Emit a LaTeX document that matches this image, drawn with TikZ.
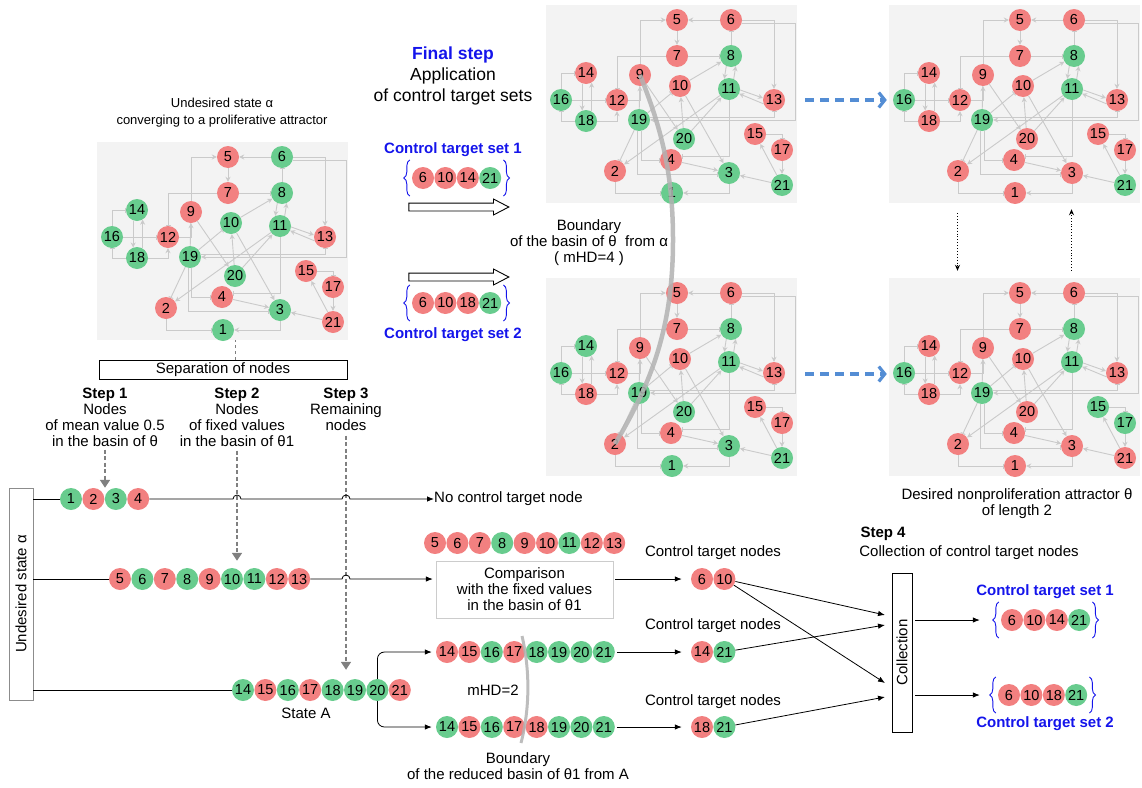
\documentclass[tikz,border=0pt]{standalone}
\usepackage{fontspec}
\setmainfont{Liberation Sans}
\usepackage{tikz}
\usetikzlibrary{backgrounds}
\usetikzlibrary{positioning, calc, arrows.meta, shapes, decorations.pathreplacing}
\usepackage{xcolor}
\definecolor{nr}{RGB}{242,128,128}
\definecolor{ng}{RGB}{104,204,142}
\definecolor{linkgray}{RGB}{202,202,202}
\definecolor{panelgray}{RGB}{243,243,243}
\definecolor{flowblue}{RGB}{84,141,212}
\definecolor{setblue}{RGB}{20,20,235}
\tikzset{netnode/.style={circle, inner sep=0pt, minimum size=22pt, font=\fontsize{14.5}{14.5}\selectfont}}
\tikzset{panel/.style={fill=panelgray, minimum width=251pt, minimum height=198pt, inner sep=0pt}}
\tikzset{link/.style={draw=linkgray, line width=0.9pt}}
\tikzset{actv/.style={link, -{Stealth[length=5pt,width=5pt]}}}
\tikzset{inhb/.style={link, -{Bar[width=5pt]}}}
\tikzset{lbl/.style={font=\fontsize{15}{16}\selectfont, align=center, inner sep=0pt}}
\tikzset{bluehead/.style={lbl, font=\fontsize{15}{16}\selectfont\bfseries, text=setblue}}
\tikzset{flow/.style={draw=black, line width=0.8pt}}
\tikzset{flowarr/.style={flow, -{Latex[length=7pt,width=5.5pt]}}}
\tikzset{stepdash/.style={draw=gray, line width=1.7pt, dash pattern=on 4pt off 2.5pt, -{Triangle[length=8pt,width=10pt]}}}
\tikzset{bluedash/.style={draw=flowblue, line width=3.2pt, dash pattern=on 9pt off 6pt, -{Straight Barb[length=6pt,width=15pt]}}}
\tikzset{dotarr/.style={draw=black, line width=0.9pt, dotted, -{Stealth[length=6pt,width=5pt]}}}
\tikzset{brc/.style={draw=setblue, line width=0.9pt, decorate, decoration={brace, amplitude=6pt}}}
\tikzset{hollow/.style={single arrow, draw, fill=white, line width=0.9pt, minimum height=100pt,
  inner xsep=0pt, inner ysep=3.5pt, single arrow head extend=4pt, single arrow tip angle=55}}
\tikzset{bound/.style={draw=black!30, line width=4.5pt, opacity=0.85}}

% node positions of the network (first panel)
\def\netpos{1/223/330,2/166/308,3/280/310,4/222/297,5/228/157,6/282/157,7/228/193,%
8/282/193,9/191/212,10/231/223,11/280/226,12/168/237,13/325/237,14/137/210,15/306/271,%
16/112/237,17/333/287,18/137/258,19/190/257,20/235/276,21/333/322}

\newcommand{\netpanel}[3]{%
  \begin{scope}[shift={(#1)}]
    \foreach \n/\x/\y in \netpos
      \coordinate (#2c\n) at (\x,\y);
    \foreach \n/\c in {#3}
      \node[netnode, fill=\c] (#2-\n) at (#2c\n) {\n};
    \begin{scope}[on background layer]
      \node[panel] (#2-box) at (222.5,241) {};
      \draw[actv] (#2-9) |- (#2-5);
      \draw[actv] (#2-6) -- (#2-5);
      \draw[actv] (#2-5) -- (#2-7);
      \draw[actv] (#2-6) -| (#2-13);
      \draw[actv] (#2-6.-20) -- ++(54,0) |- (#2-19);
      \draw[inhb] (#2-19.15) -| (#2-13);
      \draw[inhb] (#2-8) -- (#2-6);
      \draw[inhb] (#2-7) -- (#2-8);
      \draw[inhb] (#2-7) -| (#2-12);
      \draw[actv] (#2-8.-115) -- (#2-11.115);
      \draw[actv] (#2-11.65) -- (#2-8.-65);
      \draw[actv] (#2-10) -- (#2-8);
      \draw[actv] (#2-11.-5) -- (#2-13.170);
      \draw[actv] (#2-13.-160) -- (#2-11.-25);
      \draw[actv] (#2-11) -- (#2-2);
      \draw[actv] (#2-20) -- (#2-11);
      \draw[actv] (#2-20) -- (#2-10);
      \draw[inhb] (#2-19) -- (#2-10);
      \draw[actv] (#2-9) -- (#2-20);
      \draw[actv] (#2-10) -- (#2-3);
      \draw[inhb] (#2-11) |- (#2-4.20);
      \draw[actv] (#2-4) -- (#2-3);
      \draw[inhb] (#2-19.-100) |- (#2-3.-170);
      \draw[inhb] (#2-19.-80) |- (#2-4);
      \draw[inhb] (#2-19) -- (#2-2);
      \draw[inhb] (#2-2) |- (#2-1);
      \draw[actv] (#2-3) |- (#2-1);
      \draw[actv] (#2-21) -- (#2-3);
      \draw[actv] (#2-21) -- (#2-15);
      \draw[inhb] (#2-15) -| (#2-17);
      \draw[actv] (#2-17) -- (#2-21);
      \draw[inhb] (#2-16) |- (#2-14);
      \draw[inhb] (#2-16) -- (#2-12);
      \draw[actv] (#2-14.-110) -- (#2-18.110);
      \draw[actv] (#2-18.60) -- (#2-14.-60);
      \draw[inhb] (#2-18) -| (#2-16);
      \draw[actv] (#2-18) -| (#2-12);
      \draw[actv] (#2-12) -| (#2-9);
      \draw[link] (#2-9) -- (#2-19);
    \end{scope}
  \end{scope}}

% a row of state chips
\newcommand{\chiprow}[4]{%
  \foreach \n/\c [count=\i from 0] in {#4}
    \node[netnode, fill=\c] (#1-\n) at ({#2+22.4*\i},#3) {\n};}

\begin{document}
\begin{tikzpicture}[x=1pt, y=-1pt]
\useasboundingbox (0,0) rectangle (1142,787);

% networks
\netpanel{0,0}{a}{1/ng,2/nr,3/ng,4/nr,5/nr,6/ng,7/nr,8/ng,9/nr,10/ng,11/ng,12/nr,13/nr,14/ng,15/nr,16/ng,17/nr,18/ng,19/ng,20/ng,21/nr}
\netpanel{449,-137}{b}{1/ng,2/nr,3/ng,4/nr,5/nr,6/nr,7/nr,8/ng,9/nr,10/nr,11/ng,12/nr,13/nr,14/nr,15/nr,16/ng,17/nr,18/ng,19/ng,20/ng,21/ng}
\netpanel{792,-137}{c}{1/nr,2/nr,3/nr,4/nr,5/nr,6/nr,7/nr,8/ng,9/nr,10/nr,11/ng,12/nr,13/nr,14/nr,15/nr,16/ng,17/nr,18/nr,19/ng,20/nr,21/ng}
\netpanel{449,136}{d}{1/ng,2/nr,3/ng,4/nr,5/nr,6/nr,7/nr,8/ng,9/nr,10/nr,11/ng,12/nr,13/nr,14/ng,15/nr,16/ng,17/nr,18/nr,19/ng,20/ng,21/ng}
\netpanel{792,136}{e}{1/nr,2/nr,3/nr,4/nr,5/nr,6/nr,7/nr,8/ng,9/nr,10/nr,11/ng,12/nr,13/nr,14/nr,15/ng,16/ng,17/ng,18/nr,19/ng,20/nr,21/nr}

\node[lbl, font=\fontsize{13}{17}\selectfont] (undes) at (222,113) {Undesired state α\\converging to a proliferative attractor};

% final step
\node[bluehead, font=\fontsize{17.5}{21}\selectfont\bfseries] (final) at (453,55) {Final step};
\node[lbl, font=\fontsize{17.5}{21}\selectfont] (appl) at (453,86) {Application\\of control target sets};
\node[bluehead] (cts1) at (453,150) {Control target set 1};
\chiprow{sa}{423}{178}{6/nr,10/nr,14/nr,21/ng}
\draw[brc] ([xshift=-2pt,yshift=-18pt]sa-6.west) -- ([xshift=-2pt,yshift=18pt]sa-6.west);
\draw[brc] ([xshift=2pt,yshift=18pt]sa-21.east) -- ([xshift=2pt,yshift=-18pt]sa-21.east);
\node[hollow] (ha1) at (455,207) {};
\node[hollow] (ha2) at (455,277) {};
\chiprow{sb}{423}{303}{6/nr,10/nr,18/nr,21/ng}
\draw[brc] ([xshift=-2pt,yshift=-18pt]sb-6.west) -- ([xshift=-2pt,yshift=18pt]sb-6.west);
\draw[brc] ([xshift=2pt,yshift=18pt]sb-21.east) -- ([xshift=2pt,yshift=-18pt]sb-21.east);
\node[bluehead] (cts2) at (453,335) {Control target set 2};

% boundary of the basin
\draw[bound] (b-9.center) .. controls (660,125) and (673,170) .. (673,240)
  .. controls (673,330) and (650,385) .. (d-2.center);
\node[lbl] (bnd1) at (589,243) {Boundary\\of the basin of θ~ from α\\( mHD=4 )};

\draw[bluedash] ([xshift=8pt,yshift=4pt]b-box.east) -- ([xshift=-2pt,yshift=4pt]c-box.west);
\draw[bluedash] ([xshift=8pt,yshift=3pt]d-box.east) -- ([xshift=-2pt,yshift=3pt]e-box.west);
\draw[dotarr] ([xshift=-57pt,yshift=-10pt]c-box.south) -- ([xshift=-57pt,yshift=7pt]e-box.north);
\draw[dotarr] ([xshift=57pt,yshift=7pt]e-box.north) -- ([xshift=57pt,yshift=-6pt]c-box.south);
\node[lbl] (desired) at (1017,503.5) {Desired nonproliferation attractor θ\\of length 2};

% separation of nodes
\node[draw, lbl, minimum width=248pt, minimum height=19pt] (sep) at (223,369.5) {Separation of nodes};
\draw[gray, dashed, line width=0.8pt] ([xshift=12pt]sep.north) -- ([xshift=12pt]sep.north |- a-box.south);
\node[lbl] (st1) at (105,417) {\textbf{Step 1}\\Nodes\\of mean value 0.5\\in the basin of θ};
\node[lbl] (st2) at (237,417) {\textbf{Step 2}\\Nodes\\of fixed values\\in the basin of θ1};
\node[lbl] (st3) at (346,409) {\textbf{Step 3}\\Remaining\\nodes};

\node[draw=black!45, lbl, rotate=90, minimum width=212pt, minimum height=24pt] (ualpha) at (21,594) {Undesired state α};

\chiprow{ra}{71}{499}{1/ng,2/nr,3/ng,4/nr}
\chiprow{rb}{120}{579}{5/nr,6/ng,7/nr,8/ng,9/nr,10/ng,11/ng,12/nr,13/nr}
\chiprow{rc}{243}{690}{14/ng,15/nr,16/ng,17/nr,18/ng,19/ng,20/ng,21/nr}
\node[lbl, anchor=west] (nocn) at (434,499) {No control target node};
\node[lbl] (sta) at (306,713) {State A};

\draw[stepdash, shorten <=3pt] (st1) -- (st1 |- ra-2.north);
\draw[stepdash, shorten <=4pt, shorten >=7pt] (st2) -- (st2 |- rb-10.north);
\draw[stepdash, shorten <=5pt, shorten >=9pt] (st3) -- (st3 |- rc-18.north);

\draw[flow] (ualpha.south |- ra-1) -- (ra-1);
\draw[flowarr] (ra-4) -- (233,499) arc (180:0:4pt) -- (342,499) arc (180:0:4pt) -- (nocn.west);
\draw[flow] (ualpha.south |- rb-5) -- (rb-5);
\draw[flow] (ualpha.south |- rc-14) -- (rc-14);

% comparison with theta1
\chiprow{rd}{435}{543}{5/nr,6/nr,7/nr,8/ng,9/nr,10/nr,11/ng,12/nr,13/nr}
\node[draw=black!20, lbl, minimum width=177pt, minimum height=57pt] (cmp) at (524.5,589.5) {Comparison\\with the fixed values\\in the basin of θ1};
\draw[flowarr, shorten >=3pt] (rb-13) -- (342,579) arc (180:0:4pt) -- (cmp.west |- rb-13);

\chiprow{ru}{447}{652}{14/nr,15/nr,16/ng,17/nr,18/ng,19/ng,20/ng,21/ng}
\chiprow{rl}{447}{727}{14/ng,15/nr,16/ng,17/nr,18/nr,19/ng,20/ng,21/ng}
\begin{scope}[on background layer]
  \draw[flowarr, rounded corners=7pt, shorten >=4pt] (rc-20.center) |- (ru-14);
  \draw[flowarr, rounded corners=7pt, shorten >=4pt] (rc-20.center) |- (rl-14);
\end{scope}
\draw[bound, line width=3pt] (522,636) .. controls (530,670) and (530,708) .. (521,743);
\node[lbl] (mhd2) at (493,690) {mHD=2};
\node[lbl] (bnd2) at (518,766) {Boundary\\of the reduced basin of θ1 from A};

% control target nodes
\chiprow{ta}{702}{579}{6/nr,10/nr}
\chiprow{tb}{702}{652}{14/nr,21/ng}
\chiprow{tc}{702}{727}{18/nr,21/ng}
\node[lbl] (ctn1) at (713,553) {Control target nodes};
\node[lbl] (ctn2) at (713,626) {Control target nodes};
\node[lbl] (ctn3) at (713,702) {Control target nodes};
\draw[flowarr, shorten <=2pt, shorten >=9pt] (cmp.east |- ta-6) -- (ta-6);
\draw[flowarr, shorten <=2pt, shorten >=9pt] (ru-21) -- (tb-14);
\draw[flowarr, shorten <=2pt, shorten >=9pt] (rl-21) -- (tc-18);

% collection
\node[draw, lbl, rotate=90, minimum width=159pt, minimum height=20pt, line width=0.8pt] (coll) at (902,652.5) {Collection};
\node[lbl, font=\fontsize{15}{16}\selectfont\bfseries] (st4) at (883,534) {Step 4};
\node[lbl] (colltxt) at (969,553) {Collection of control target nodes};
\coordinate (cin1) at (885,615);
\coordinate (cin2) at (885,625);
\coordinate (cin3) at (885,683);
\coordinate (cin4) at (885,697);
\draw[flowarr] (ta-10) -- (cin1);
\draw[flowarr] (ta-10) -- (cin3);
\draw[flowarr] (tb-21) -- (cin2);
\draw[flowarr] (tc-21) -- (cin4);

\chiprow{fa}{1012}{620}{6/nr,10/nr,14/nr,21/ng}
\chiprow{fb}{1009}{695}{6/nr,10/nr,18/nr,21/ng}
\draw[flowarr, shorten <=3pt, shorten >=21pt] (coll.south |- fa-6) -- (fa-6);
\draw[flowarr, shorten <=3pt, shorten >=18pt] (coll.south |- fb-6) -- (fb-6);
\draw[brc] ([xshift=-2pt,yshift=-18pt]fa-6.west) -- ([xshift=-2pt,yshift=18pt]fa-6.west);
\draw[brc] ([xshift=2pt,yshift=18pt]fa-21.east) -- ([xshift=2pt,yshift=-18pt]fa-21.east);
\draw[brc] ([xshift=-2pt,yshift=-18pt]fb-6.west) -- ([xshift=-2pt,yshift=18pt]fb-6.west);
\draw[brc] ([xshift=2pt,yshift=18pt]fb-21.east) -- ([xshift=2pt,yshift=-18pt]fb-21.east);
\node[bluehead] (fcts1) at (1045,592) {Control target set 1};
\node[bluehead] (fcts2) at (1045,724) {Control target set 2};
\end{tikzpicture}
\end{document}
